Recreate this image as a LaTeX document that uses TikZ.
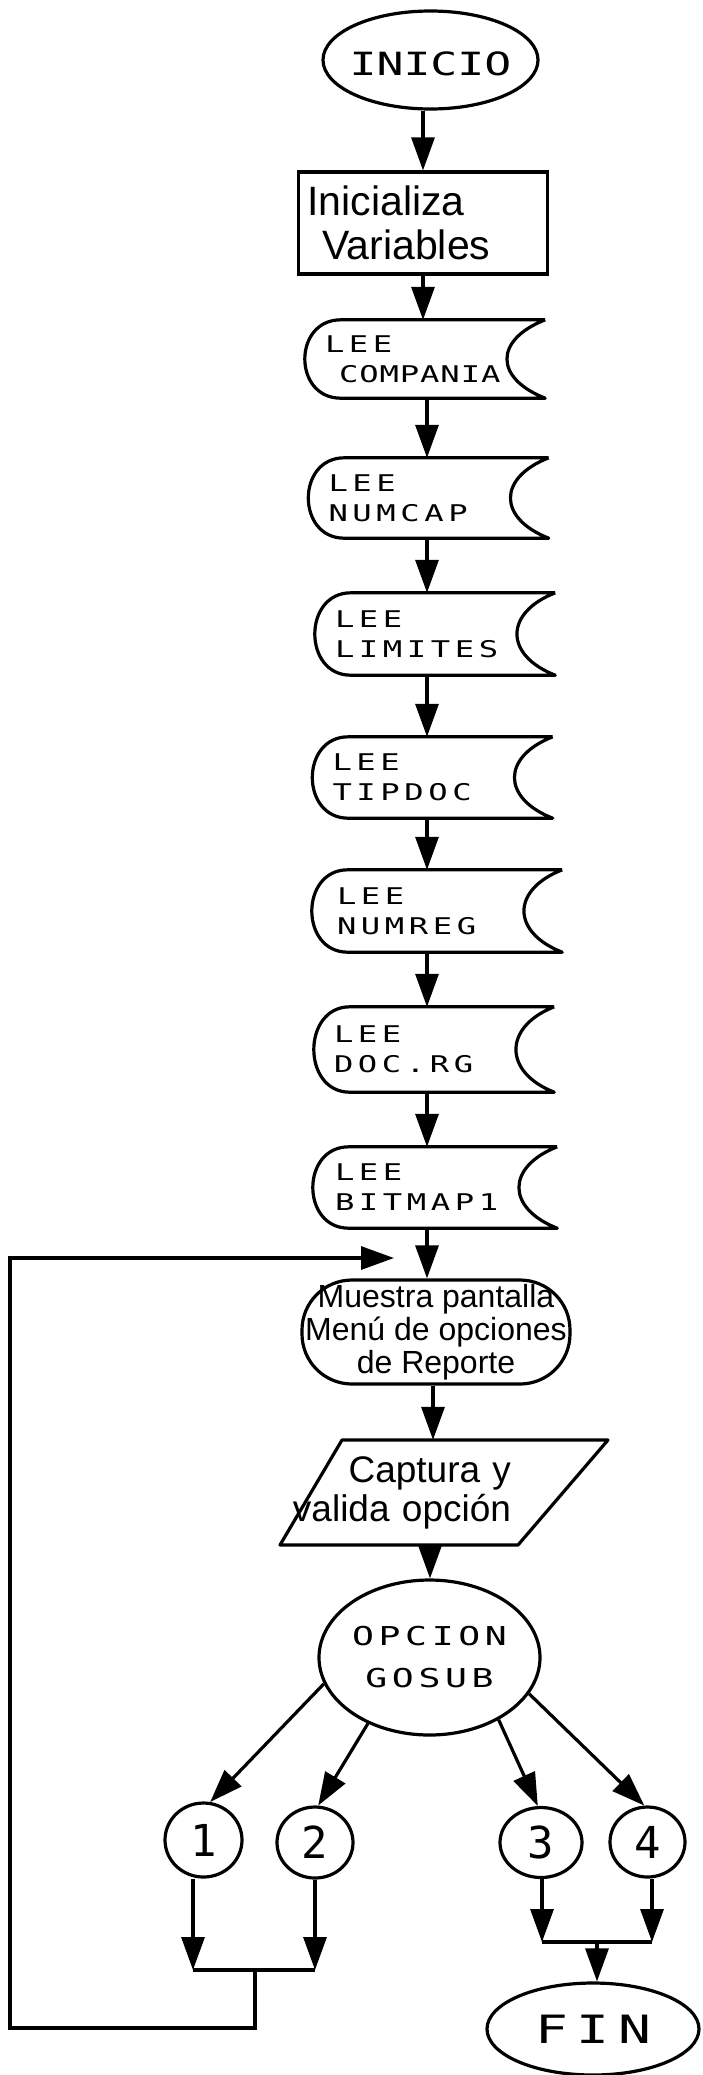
\documentclass[tikz,border=0pt]{standalone}
\usepackage{fontspec}
\usetikzlibrary{arrows.meta,shapes.geometric}
\newfontfamily\handcaps[FakeStretch=1.4]{DejaVu Sans Mono}
\newfontfamily\handdigits{DejaVu Sans Mono}
\newfontfamily\handtext{Liberation Sans}
\newcommand\drawstore[1]{%
  \draw[ln, line join=round] (#1.north east) -- ([xshift=36pt]#1.north west)
    .. controls ([xshift=-12pt]#1.north west) and ([xshift=-12pt]#1.south west) .. ([xshift=36pt]#1.south west)
    -- (#1.south east)
    .. controls ([shift={(-51pt,20pt)}]#1.south east) and ([shift={(-51pt,-20pt)}]#1.north east) .. (#1.north east);}
\tikzset{
  ln/.style={line width=3.2pt},
  arr/.style={ln, -{Triangle[length=33pt,width=23pt]}},
  ell/.style={ellipse, draw, ln, inner sep=0pt},
  store/.style={rectangle, inner xsep=20pt, inner ysep=0pt, text width=200pt, align=left,
    font=\handcaps\fontsize{23}{30}\selectfont\addfontfeatures{LetterSpace=20}},
  conn/.style={ell, font=\handdigits\fontsize{44}{44}\selectfont},
}
\begin{document}
\begin{tikzpicture}[x=1pt,y=1pt]
\fill[white] (0,0) rectangle (702,-2075);
\useasboundingbox (0,0) rectangle (702,-2075);

% terminal
\node[ell, minimum width=215pt, minimum height=98pt,
  label={[font=\handcaps\fontsize{32}{36}\selectfont, yshift=-4pt]center:INICIO}]
  (inicio) at (430.5,-60) {};

% process box
\node[draw, ln, rectangle, minimum width=249pt, minimum height=102pt, text width=231pt,
  inner xsep=9pt, inner ysep=0pt, align=left, font=\handtext\fontsize{41}{44}\selectfont]
  (init) at (423,-223) {Inicializa\\\hspace*{15pt}Variables};

% stored data reads
\node[store, minimum height=78pt] (comp) at (425,-359)
  {LEE\\\hspace*{14pt}\addfontfeatures{LetterSpace=4}COMPANIA};
\node[store, minimum height=80pt] (numcap) at (428.5,-498) {LEE\\NUMCAP};
\node[store, minimum height=82pt] (limites) at (435,-634) {LEE\\LIMITES};
\node[store, minimum height=81pt] (tipdoc) at (432.5,-777.5) {LEE\\TIPDOC};
\node[store, minimum height=82pt, minimum width=250pt] (numreg) at (437,-911) {LEE\\NUMREG};
\node[store, minimum height=85pt] (docrg) at (434,-1049.5) {LEE\\DOC.RG};
\node[store, minimum height=81pt, minimum width=244pt] (bitmap) at (435,-1187.5) {LEE\\BITMAP1};
\drawstore{comp}
\drawstore{numcap}
\drawstore{limites}
\drawstore{tipdoc}
\drawstore{numreg}
\drawstore{docrg}
\drawstore{bitmap}

% display
\node[draw, ln, rounded corners=50pt, minimum width=268pt, minimum height=104pt, inner sep=0pt,
  align=center, font=\handtext\fontsize{32}{33}\selectfont]
  (menu) at (436,-1332) {Muestra pantalla\\Menú de opciones\\de Reporte};

% input
\node[inner sep=0pt, minimum height=105pt, text width=226pt, align=right,
  font=\handtext\fontsize{37}{39}\selectfont]
  (capt) at (398,-1492.5) {Captura y\\valida opción};
\draw[ln, line join=round] (342,-1440) -- (608,-1440) -- (518,-1545) -- (280,-1545) -- cycle;

% decision
\node[ell, minimum width=221pt, minimum height=155pt,
  label={[align=center, font=\handcaps\fontsize{26}{42}\selectfont\addfontfeatures{LetterSpace=18}]center:{OPCION\\GOSUB}}]
  (opc) at (429.5,-1657.5) {};

% connectors
\node[conn, minimum width=77pt, minimum height=74pt] (c1) at (203.5,-1840) {1};
\node[conn, minimum width=76pt, minimum height=71pt] (c2) at (315,-1842.5) {2};
\node[conn, minimum width=82pt, minimum height=70pt] (c3) at (541,-1842.5) {3};
\node[conn, minimum width=75pt, minimum height=70pt] (c4) at (647.5,-1842) {4};

% end
\node[ell, minimum width=212pt, minimum height=92pt,
  label={[font=\handcaps\fontsize{39}{40}\selectfont\addfontfeatures{LetterSpace=22}]center:FIN}]
  (fin) at (593,-2029) {};

% helper coordinates
\coordinate (ax) at (427,0);
\coordinate (bx) at (433,0);
\coordinate (cx) at (430,0);
\coordinate (j1) at (193,-1970);
\coordinate (j2) at (315,-1970);
\coordinate (jm) at (255,-1970);
\coordinate (fb1) at (255,-2028);
\coordinate (fb2) at (10,-2028);
\coordinate (fb3) at (10,-1258);
\coordinate (fbend) at (394,-1258);
\coordinate (j3) at (542,-1942);
\coordinate (j4) at (652,-1942);
\coordinate (jf) at (597,-1942);

% main flow
\draw[arr] (inicio.south -| init.north) -- (init.north);
\draw[arr] (init.south) -- (comp.north -| init.south);
\draw[arr] (comp.south -| ax) -- (numcap.north -| ax);
\draw[arr] (numcap.south -| ax) -- (limites.north -| ax);
\draw[arr] (limites.south -| ax) -- (tipdoc.north -| ax);
\draw[arr] (tipdoc.south -| ax) -- (numreg.north -| ax);
\draw[arr] (numreg.south -| ax) -- (docrg.north -| ax);
\draw[arr] (docrg.south -| ax) -- (bitmap.north -| ax);
\draw[arr] (bitmap.south -| ax) -- (menu.north -| ax);
\draw[arr] (menu.south -| bx) -- (capt.north -| bx);
\draw[arr] (capt.south -| cx) -- (opc.north -| cx);

% branches
\draw[arr] (opc.194) -- (c1.80);
\draw[arr] (opc.227) -- (c2.85);
\draw[arr] (opc.318) -- (c3.95);
\draw[arr] (opc.340) -- (c4.95);

% left merge and loop back
\draw[arr] (c1.south -| j1) -- (j1);
\draw[arr] (c2.south -| j2) -- (j2);
\draw[ln] (j1) -- (j2);
\draw[arr, line join=miter] (jm) -- (fb1) -- (fb2) -- (fb3) -- (fbend);

% right merge to end
\draw[arr] (c3.south -| j3) -- (j3);
\draw[arr] (c4.south -| j4) -- (j4);
\draw[ln] (j3) -- (j4);
\draw[arr] (jf) -- (fin.north -| jf);
\end{tikzpicture}
\end{document}
